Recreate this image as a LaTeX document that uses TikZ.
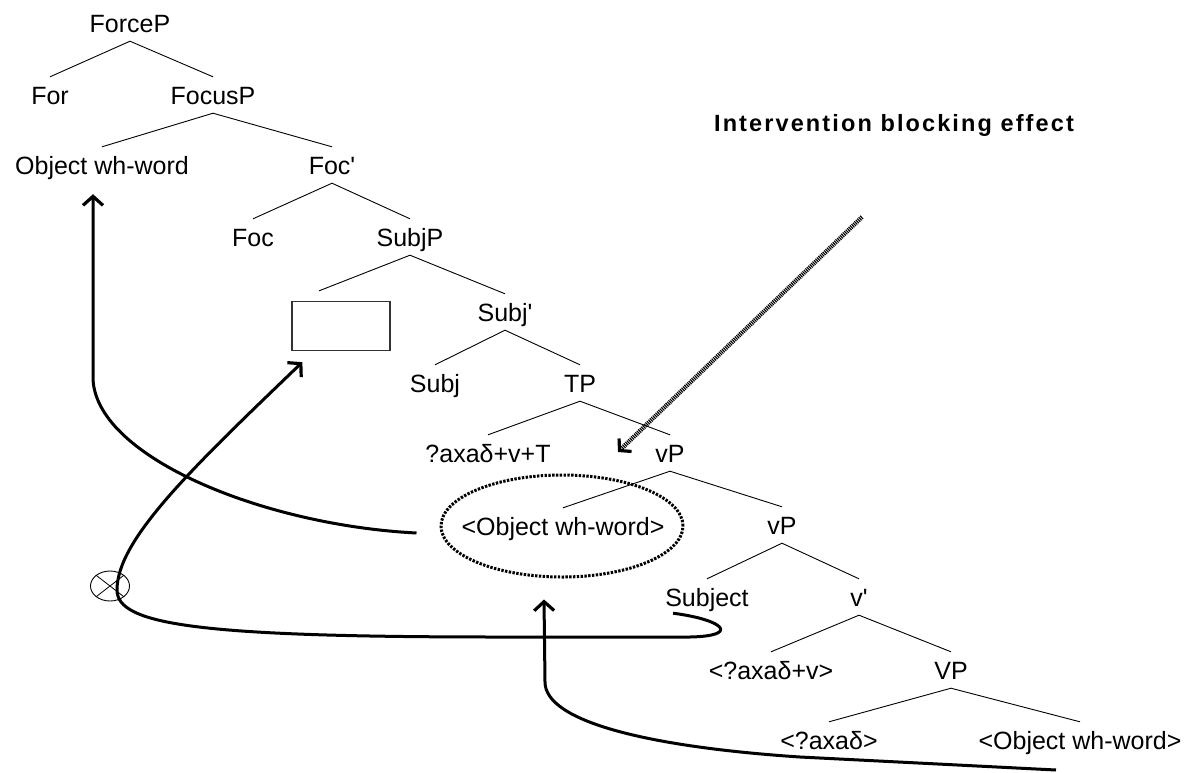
\documentclass[tikz,border=0pt]{standalone}
\usepackage{fontspec}
\setmainfont{Liberation Sans}[Ligatures=TeXOff]
\newfontfamily\headfont{Liberation Sans}[LetterSpace=9,Ligatures=TeXOff]
\usetikzlibrary{arrows.meta,calc,shapes.geometric}

\begin{document}
\begin{tikzpicture}[x=1pt,y=1pt,
  lbl/.style={inner sep=0pt, minimum height=36pt, text height=18pt, text depth=0pt,
              font=\fontsize{25}{30}\selectfont},
  branch/.style={line width=0.9pt},
  move/.style={line width=3pt, line join=round,
               -{Straight Barb[length=9pt,width=20pt,line width=3.2pt]}},
  hatched/.style={line width=4.4pt, dash pattern=on 1.1pt off 0.9pt,
                  -{Straight Barb[length=8pt,width=18pt,line width=3.2pt]}},
  ringstyle/.style={ellipse, draw, inner sep=0pt, line width=3pt,
                    dash pattern=on 2.4pt off 1.4pt,
                    minimum width=242pt, minimum height=102pt},
  gapbox/.style={draw=black!80, line width=1.3pt, minimum width=98pt,
                 minimum height=49pt, inner sep=0pt},
  blockmark/.style={ellipse, draw, line width=0.9pt, inner sep=0pt,
                    minimum width=39pt, minimum height=30pt}
]
\useasboundingbox (0,0) rectangle (1195,-772);

% title
\node[font=\headfont\bfseries\fontsize{23.5}{28}\selectfont] (title) at (894,-125)
  {Intervention blocking effect};

% tree labels
\node[lbl] (forcep)  at (130,-23)  {ForceP};
\node[lbl] (for)     at (50,-95)   {For};
\node[lbl] (focusp)  at (213,-95)  {FocusP};
\node[lbl] (owhA)    at (102,-165) {Object wh-word};
\node[lbl] (focbar)  at (332,-165) {Foc'};
\node[lbl] (foc)     at (253,-237) {Foc};
\node[lbl] (subjp)   at (410,-237) {SubjP};
\node[gapbox] (gap)  at (341,-326) {};
\node[lbl] (subjbar) at (505,-312) {Subj'};
\node[lbl] (subj)    at (435,-383) {Subj};
\node[lbl] (tp)      at (580,-383) {TP};
\node[lbl] (vT)      at (488,-453) {?axaδ+v+T};
\node[lbl] (vpA)     at (670,-453) {vP};
\node[lbl] (owhB)    at (563,-526) {<Object wh-word>};
\node[lbl] (vpB)     at (782,-525) {vP};
\node[lbl] (subject) at (707,-597) {Subject};
\node[lbl] (vbar)    at (859,-597) {v'};
\node[lbl] (vv)      at (771,-670) {<?axaδ+v>};
\node[lbl] (vpC)     at (951,-670) {VP};
\node[lbl] (verb)    at (829,-740) {<?axaδ>};
\node[lbl] (owhC)    at (1080,-740) {<Object wh-word>};

% branches
\draw[branch] (for.north) -- (forcep.south) -- (focusp.north);
\draw[branch] (owhA.north) -- (focusp.south) -- (focbar.north);
\draw[branch] (foc.north) -- (focbar.south) -- (subjp.north);
\draw[branch] ($(gap.north)+(-22,10)$) -- (subjp.south) -- (subjbar.north);
\draw[branch] (subj.north) -- (subjbar.south) -- (tp.north);
\draw[branch] (vT.north) -- (tp.south) -- (vpA.north);
\draw[branch] (owhB.north) -- (vpA.south) -- (vpB.north);
\draw[branch] (subject.north) -- (vpB.south) -- (vbar.north);
\draw[branch] (vv.north) -- (vbar.south) -- (vpC.north);
\draw[branch] (verb.north) -- (vpC.south) -- (owhC.north);

% dotted ring round the lower copy
\node[ringstyle] (ring) at (562,-526) {};

% blocked-path mark
\node[blockmark] (blocked) at (110,-586) {};
\draw[line width=0.8pt] (blocked.north west) -- (blocked.south east)
                        (blocked.north east) -- (blocked.south west);

% movement of the object wh-word to FocusP
\draw[move] ($(ring.west)+(-23,-7)$) .. controls (260,-525) and (93,-455) .. (93,-377)
  -- ($(owhA.south)+(-9,-11)$);

% blocked movement of the subject to SubjP
\draw[move] ($(subject.south west)+(8,2)$) .. controls (725,-620) and (740,-636) .. (690,-637)
  -- (500,-637) .. controls (200,-637) and (117,-625) .. (117,-590)
  .. controls (117,-540) and (190,-470) .. ($(gap.south west)+(11,-11)$);

% movement of the object from VP to the vP edge
\coordinate (objsrc) at (1056,-770);
\draw[move] (objsrc) -- (800,-757) .. controls (650,-747) and (545,-722) .. (545,-682)
  -- ($(ring.south)+(-18,-21)$);

% intervention arrow
\coordinate (hatchsrc) at (862,-217);
\coordinate (hatchtip) at (618,-452);
\draw[hatched] (hatchsrc) -- (hatchtip);
\end{tikzpicture}
\end{document}
